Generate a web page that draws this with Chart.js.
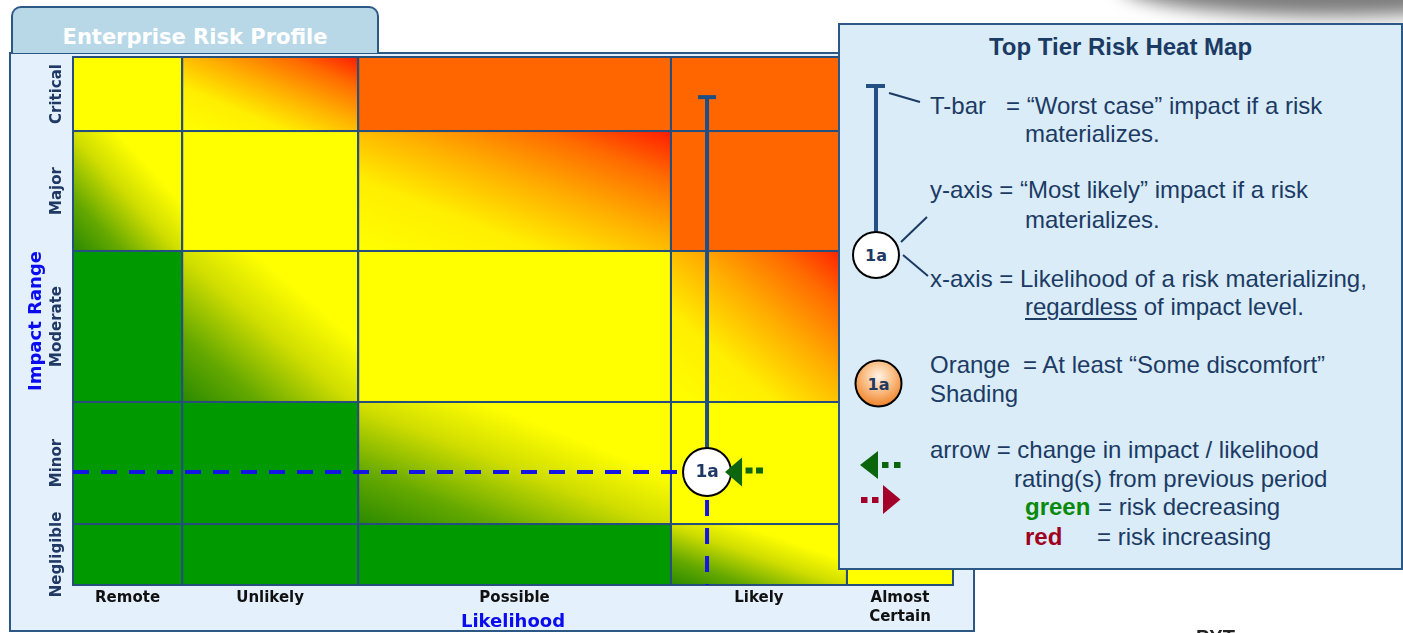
<!DOCTYPE html>
<html>
<head>
<meta charset="utf-8">
<title>Enterprise Risk Profile</title>
<script src="https://cdn.jsdelivr.net/npm/chart.js@4.4.1/dist/chart.umd.min.js"></script>
<style>
  html, body { margin: 0; padding: 0; width: 1403px; height: 633px; overflow: hidden; background: #ffffff; }
  body { position: relative; }
  #shadow { position: absolute; left: 1120px; top: -46px; width: 430px; height: 62px; border-radius: 50%;
            background: #7c7c7c; filter: blur(9px); z-index: 0; }
  #frame { position: absolute; left: 9px; top: 52px; width: 966px; height: 580px; box-sizing: border-box;
           border: 2px solid #2c5886; background: #e4f0fb; z-index: 1; }
  #tab { position: absolute; left: 11px; top: 6px; width: 368px; height: 47px; box-sizing: border-box;
         border: 2px solid #2c5886; border-bottom: none; border-radius: 10px 10px 0 0; background: #b8d8e8;
         color: #ffffff; font: bold 21px "DejaVu Sans", Verdana, sans-serif; text-align: center;
         line-height: 58px; z-index: 2; }
  #heat { position: absolute; left: 0; top: 0; width: 1403px; height: 633px; z-index: 3; }
  #key { position: absolute; left: 838px; top: 23px; width: 565px; height: 547px; box-sizing: border-box;
         border: 2px solid #2c5886; background: #d9ecf8; z-index: 4; color: #1c3b64;
         font-family: "Liberation Sans", Arial, sans-serif; font-size: 24px; }
  #key .t { position: absolute; white-space: pre; line-height: 24px; }
  #key .title { left: 0; width: 561px; text-align: center; font-weight: bold; }
  #key svg { position: absolute; left: 0; top: 0; }
  #key u { text-decoration-thickness: 2px; text-underline-offset: 3px; }
  .good { color: #0a8a0a; font-weight: bold; }
  .bad { color: #a0001e; font-weight: bold; }
  #footer { position: absolute; left: 1196px; top: 627px; font: bold 20px "Liberation Sans", Arial, sans-serif;
            line-height: 20px; color: #222222; z-index: 5; }
</style>
</head>
<body>
<div id="shadow"></div>
<div id="frame"></div>
<div id="tab">Enterprise Risk Profile</div>
<canvas id="heat" width="1403" height="633"></canvas>

<div id="key">
  <svg width="561" height="543" viewBox="0 0 561 543">
    <defs>
      <radialGradient id="orangeShade" cx="0.5" cy="0.35" r="0.65">
        <stop offset="0" stop-color="#fff3e6"/>
        <stop offset="0.45" stop-color="#fbc48e"/>
        <stop offset="1" stop-color="#ee8128"/>
      </radialGradient>
    </defs>
    <g transform="translate(-840,-25)">
      <!-- T-bar sample -->
      <line x1="866" y1="86" x2="885" y2="86" stroke="#234f84" stroke-width="4"/>
      <line x1="876" y1="86" x2="876" y2="234" stroke="#234f84" stroke-width="4"/>
      <line x1="889" y1="93" x2="920" y2="102" stroke="#1c3b64" stroke-width="2"/>
      <!-- plain risk marker sample -->
      <circle cx="876" cy="255" r="23" fill="#ffffff" stroke="#000000" stroke-width="2"/>
      <text x="876" y="261" text-anchor="middle" font-family="DejaVu Sans, Verdana, sans-serif" font-weight="bold" font-size="16" fill="#1f3864">1a</text>
      <line x1="901" y1="242" x2="927" y2="217" stroke="#1c3b64" stroke-width="2"/>
      <line x1="903" y1="255" x2="928" y2="276" stroke="#1c3b64" stroke-width="2"/>
      <!-- shaded risk marker sample -->
      <circle cx="878.5" cy="383.5" r="23" fill="url(#orangeShade)" stroke="#000000" stroke-width="2"/>
      <text x="878.5" y="389.5" text-anchor="middle" font-family="DejaVu Sans, Verdana, sans-serif" font-weight="bold" font-size="16" fill="#1f3864">1a</text>
      <!-- trend arrows -->
      <polygon points="860,465 878,451 878,479" fill="#0b650b"/>
      <rect x="882" y="462" width="6.5" height="6" fill="#0b650b"/>
      <rect x="894" y="462" width="6.5" height="6" fill="#0b650b"/>
      <rect x="861" y="497" width="6.5" height="6" fill="#a3002a"/>
      <rect x="872" y="497" width="6.5" height="6" fill="#a3002a"/>
      <polygon points="883,485 883,514 900.5,499.5" fill="#a3002a"/>
    </g>
  </svg>
  <div class="t title" style="top:10px;">Top Tier Risk Heat Map</div>
  <div class="t" style="left:90px; top:69px;">T-bar</div>
  <div class="t" style="left:166px; top:69px;">= “Worst case” impact if a risk</div>
  <div class="t" style="left:185px; top:97px;">materializes.</div>
  <div class="t" style="left:90px; top:153px;">y-axis = “Most likely” impact if a risk</div>
  <div class="t" style="left:185px; top:183px;">materializes.</div>
  <div class="t" style="left:90px; top:242px;">x-axis = Likelihood of a risk materializing,</div>
  <div class="t" style="left:185px; top:270px;"><u>regardless</u> of impact level.</div>
  <div class="t" style="left:90px; top:328px;">Orange</div>
  <div class="t" style="left:183px; top:328px;">= At least “Some discomfort”</div>
  <div class="t" style="left:90px; top:357px;">Shading</div>
  <div class="t" style="left:90px; top:413px;">arrow = change in impact / likelihood</div>
  <div class="t" style="left:174px; top:442px;">rating(s) from previous period</div>
  <div class="t" style="left:185px; top:470px;"><span class="good">green</span></div>
  <div class="t" style="left:258px; top:470px;">= risk decreasing</div>
  <div class="t" style="left:185px; top:500px;"><span class="bad">red</span></div>
  <div class="t" style="left:257px; top:500px;">= risk increasing</div>
</div>
<div id="footer">PYT</div>

<script>
// Likelihood bands (x) and impact bands (y), both on a 0–100 scale.
const likelihoodLabels = ['Remote', 'Unlikely', 'Possible', 'Likely', ['Almost', 'Certain']];
const likelihoodEdges = [0, 12.4, 32.4, 67.95, 87.95, 100];
const impactLabels = ['Negligible', 'Minor', 'Moderate', 'Major', 'Critical'];
const impactEdges = [0, 11.55, 34.66, 63.26, 85.98, 100];

// Heat rating per cell, rows from Negligible up to Critical, columns Remote → Almost Certain.
// G = green, Y = yellow, O = orange, GY = green→yellow blend, YR = yellow→red blend
const impactShades = [
  ['G',  'G',  'G',  'GY', 'Y'],
  ['G',  'G',  'GY', 'Y',  'Y'],
  ['G',  'GY', 'Y',  'YR', 'O'],
  ['GY', 'Y',  'YR', 'O',  'O'],
  ['Y',  'YR', 'O',  'O',  'O']
];

// Plotted risks
const riskIds = ['1a'];
const riskLikelihood = [72.05];
const riskImpactLikely = [21.4];
const riskImpactWorst = [92.4];
const riskTrend = ['down'];

const GRID = '#264f7d';
const SOLID = { G: '#009900', Y: '#ffff00', O: '#ff6600' };
const BLENDS = {
  GY: [[0, '#2a8a00'], [0.22, '#64a800'], [0.48, '#cfdd00'], [0.7, '#ffff00'], [1, '#ffff00']],
  YR: [[0, '#ffff00'], [0.3, '#ffee00'], [0.55, '#ffb000'], [0.8, '#ff6a00'], [1, '#ff1c00']]
};

function bandCenters(edges) {
  return edges.slice(0, -1).map((e, i) => (e + edges[i + 1]) / 2);
}

function paintCell(ctx, code, x0, y0, w, h) {
  if (SOLID[code]) {
    ctx.fillStyle = SOLID[code];
    ctx.fillRect(x0, y0, w, h);
    return;
  }
  // diagonal blend stretched to the cell: bottom-left → top-right
  ctx.save();
  ctx.translate(x0, y0);
  ctx.scale(w, h);
  const g = ctx.createLinearGradient(0, 1, 1, 0);
  BLENDS[code].forEach(([o, c]) => g.addColorStop(o, c));
  ctx.fillStyle = g;
  ctx.fillRect(0, 0, 1, 1);
  ctx.restore();
}

const riskCells = {
  id: 'riskCells',
  beforeDatasetsDraw(chart) {
    const { ctx, scales: { x, y } } = chart;
    const rects = [];
    impactShades.forEach((row, r) => {
      row.forEach((code, c) => {
        const x0 = x.getPixelForValue(likelihoodEdges[c]);
        const x1 = x.getPixelForValue(likelihoodEdges[c + 1]);
        const y0 = y.getPixelForValue(impactEdges[r + 1]);
        const y1 = y.getPixelForValue(impactEdges[r]);
        paintCell(ctx, code, x0, y0, x1 - x0, y1 - y0);
        rects.push([x0, y0, x1 - x0, y1 - y0]);
      });
    });
    ctx.save();
    ctx.strokeStyle = GRID;
    ctx.lineWidth = 2;
    rects.forEach(rc => ctx.strokeRect(...rc));
    ctx.restore();
  }
};

const riskBadges = {
  id: 'riskBadges',
  afterDatasetsDraw(chart) {
    const { ctx } = chart;
    const meta = chart.getDatasetMeta(0);
    ctx.save();
    meta.data.forEach((pt, i) => {
      const { x, y } = pt.getProps(['x', 'y'], true);
      ctx.font = 'bold 17px "DejaVu Sans", Verdana, sans-serif';
      ctx.fillStyle = '#1f3864';
      ctx.textAlign = 'center';
      ctx.textBaseline = 'middle';
      ctx.fillText(riskIds[i], x, y + 1);
      // trend arrow beside the marker
      const col = riskTrend[i] === 'down' ? '#0d650d' : '#a3002a';
      ctx.fillStyle = col;
      ctx.beginPath();
      if (riskTrend[i] === 'down') {
        ctx.moveTo(x + 18, y);
        ctx.lineTo(x + 35, y - 14.5);
        ctx.lineTo(x + 35, y + 14.5);
      } else {
        ctx.moveTo(x + 52, y);
        ctx.lineTo(x + 35, y - 14.5);
        ctx.lineTo(x + 35, y + 14.5);
      }
      ctx.closePath();
      ctx.fill();
      const dotX = riskTrend[i] === 'down' ? [38.5, 49] : [14, 24];
      dotX.forEach(dx => ctx.fillRect(x + dx, y - 4.5, 7, 6));
    });
    ctx.restore();
  }
};

Chart.defaults.font.family = '"DejaVu Sans", Verdana, sans-serif';

const markerPoints = riskIds.map((id, i) => ({ x: riskLikelihood[i], y: riskImpactLikely[i] }));
const tbarPoints = [{ x: riskLikelihood[0], y: riskImpactLikely[0] }, { x: riskLikelihood[0], y: riskImpactWorst[0] }];
const guideH = [{ x: 0, y: riskImpactLikely[0] }, { x: riskLikelihood[0], y: riskImpactLikely[0] }];
const guideV = [{ x: riskLikelihood[0], y: riskImpactLikely[0] }, { x: riskLikelihood[0], y: 0 }];

new Chart(document.getElementById('heat'), {
  type: 'scatter',
  data: {
    datasets: [
      {
        label: 'Risk',
        data: markerPoints,
        pointRadius: 24,
        pointBackgroundColor: '#ffffff',
        pointBorderColor: '#000000',
        pointBorderWidth: 2,
        order: 0
      },
      {
        label: 'Worst case',
        data: tbarPoints,
        showLine: true,
        borderColor: '#1f4e84',
        borderWidth: 4,
        pointStyle: 'line',
        pointRadius: [0, 9],
        pointBorderColor: '#1f4e84',
        pointBorderWidth: 4,
        order: 1
      },
      {
        label: 'Impact guide',
        data: guideH,
        showLine: true,
        borderColor: '#1414e6',
        borderWidth: 4,
        borderDash: [16, 12],
        pointRadius: 0,
        order: 2
      },
      {
        label: 'Likelihood guide',
        data: guideV,
        showLine: true,
        borderColor: '#1414e6',
        borderWidth: 4,
        borderDash: [16, 12],
        pointRadius: 0,
        order: 2
      }
    ]
  },
  options: {
    responsive: false,
    animation: false,
    events: [],
    layout: { padding: { left: 12, top: 57, right: 450, bottom: 0 } },
    plugins: { legend: { display: false }, tooltip: { enabled: false } },
    scales: {
      x: {
        type: 'linear', min: 0, max: 100,
        grid: { display: false, drawTicks: false },
        border: { display: false },
        afterBuildTicks: axis => { axis.ticks = bandCenters(likelihoodEdges).map(v => ({ value: v })); },
        afterFit: axis => { axis.height = 48; },
        ticks: {
          autoSkip: false, maxRotation: 0, minRotation: 0, padding: 3,
          color: '#111111',
          font: { weight: 'bold', size: 15, lineHeight: 1.3 },
          callback: (v, i) => likelihoodLabels[i]
        },
        title: {
          display: true, text: 'Likelihood', color: '#0b0bef', padding: 0,
          font: { weight: 'bold', size: 18 }
        }
      },
      y: {
        type: 'linear', min: 0, max: 100,
        grid: { display: false, drawTicks: false },
        border: { display: false },
        afterBuildTicks: axis => { axis.ticks = bandCenters(impactEdges).map(v => ({ value: v })); },
        afterFit: axis => { axis.width = 61; },
        ticks: {
          autoSkip: false, minRotation: 90, maxRotation: 90, crossAlign: 'center', padding: -27,
          color: '#1f3864',
          font: { weight: 'bold', size: 15 },
          callback: (v, i) => impactLabels[i]
        },
        title: {
          display: true, text: 'Impact Range', color: '#0b0bef', padding: { top: 14, bottom: 0 },
          font: { weight: 'bold', size: 18 }
        }
      }
    }
  },
  plugins: [riskCells, riskBadges]
});
</script>
</body>
</html>
